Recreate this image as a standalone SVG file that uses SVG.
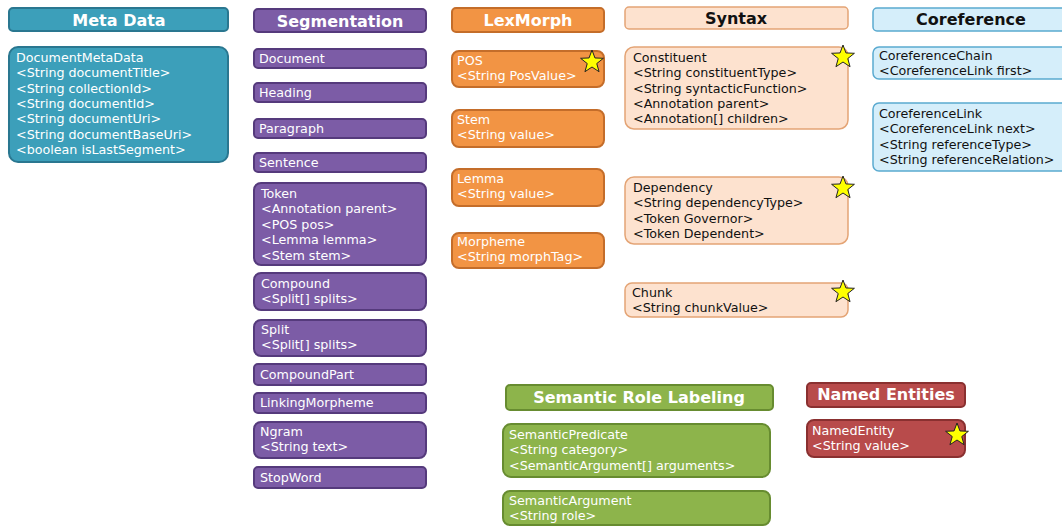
<svg xmlns="http://www.w3.org/2000/svg" width="1062" height="526" viewBox="0 0 1062 526">
<style>
text{font-family:"DejaVu Sans","Noto Sans",sans-serif;}
.h{font-size:16px;font-weight:bold;text-anchor:middle;}
.b{font-size:12.7px;}
.w{fill:#ffffff;}
.k{fill:#111111;}
.meta{fill:#3c9fba;stroke:#2a7790;stroke-width:2;}
.seg{fill:#7c5ca6;stroke:#553a7c;stroke-width:2;}
.lex{fill:#f29444;stroke:#c46d2a;stroke-width:2;}
.syn{fill:#fde2cf;stroke:#e4a475;stroke-width:1.5;}
.cor{fill:#d5eefa;stroke:#5aaad0;stroke-width:1.5;}
.srl{fill:#8db44b;stroke:#678c30;stroke-width:2;}
.ne{fill:#b84b4b;stroke:#8a3030;stroke-width:2;}
.star{fill:#ffff00;stroke:#222;stroke-width:1;}
</style>
<defs>
<path id="star" class="star" d="M0,-12 L2.94,-4.05 L11.41,-3.71 L4.76,1.55 L7.05,9.71 L0,5 L-7.05,9.71 L-4.76,1.55 L-11.41,-3.71 L-2.94,-4.05 Z"/>
</defs>
<rect width="1062" height="526" fill="#ffffff"/>
<g id="connectors"></g>

<!-- Meta Data -->
<g id="meta-header"><rect class="meta" x="9" y="8" width="219" height="23" rx="4"/><text class="h w" x="119" y="25.5">Meta Data</text></g>
<g id="DocumentMetaData"><rect class="meta" x="9" y="47" width="219" height="115" rx="9"/>
<text class="b w" x="16"><tspan x="16" y="62">DocumentMetaData</tspan><tspan x="16" y="77.3">&lt;String documentTitle&gt;</tspan><tspan x="16" y="92.6">&lt;String collectionId&gt;</tspan><tspan x="16" y="107.9">&lt;String documentId&gt;</tspan><tspan x="16" y="123.2">&lt;String documentUri&gt;</tspan><tspan x="16" y="138.5">&lt;String documentBaseUri&gt;</tspan><tspan x="16" y="153.8">&lt;boolean isLastSegment&gt;</tspan></text></g>

<!-- Segmentation -->
<g id="seg-header"><rect class="seg" x="254" y="9" width="172" height="23" rx="4"/><text class="h w" x="340" y="26.5">Segmentation</text></g>
<g id="Document"><rect class="seg" x="254" y="49" width="172" height="19" rx="4"/><text class="b w" x="259" y="63">Document</text></g>
<g id="Heading"><rect class="seg" x="254" y="83" width="172" height="19" rx="4"/><text class="b w" x="259" y="97">Heading</text></g>
<g id="Paragraph"><rect class="seg" x="254" y="119" width="172" height="19" rx="4"/><text class="b w" x="259" y="133">Paragraph</text></g>
<g id="Sentence"><rect class="seg" x="254" y="153" width="172" height="19" rx="4"/><text class="b w" x="259" y="167">Sentence</text></g>
<g id="Token"><rect class="seg" x="254" y="183" width="172" height="82" rx="7"/>
<text class="b w"><tspan x="261" y="197.5">Token</tspan><tspan x="261" y="213">&lt;Annotation parent&gt;</tspan><tspan x="261" y="228.5">&lt;POS pos&gt;</tspan><tspan x="261" y="244">&lt;Lemma lemma&gt;</tspan><tspan x="261" y="259.5">&lt;Stem stem&gt;</tspan></text></g>
<g id="Compound"><rect class="seg" x="254" y="273" width="172" height="37" rx="7"/>
<text class="b w"><tspan x="261" y="287.5">Compound</tspan><tspan x="261" y="302.5">&lt;Split[] splits&gt;</tspan></text></g>
<g id="Split"><rect class="seg" x="254" y="320" width="172" height="36" rx="7"/>
<text class="b w"><tspan x="261" y="334">Split</tspan><tspan x="261" y="349">&lt;Split[] splits&gt;</tspan></text></g>
<g id="CompoundPart"><rect class="seg" x="254" y="364" width="172" height="21" rx="4"/><text class="b w" x="260" y="378.5">CompoundPart</text></g>
<g id="LinkingMorpheme"><rect class="seg" x="254" y="393" width="172" height="20" rx="4"/><text class="b w" x="260" y="407">LinkingMorpheme</text></g>
<g id="Ngram"><rect class="seg" x="254" y="422" width="172" height="36" rx="7"/>
<text class="b w"><tspan x="260" y="436">Ngram</tspan><tspan x="260" y="451">&lt;String text&gt;</tspan></text></g>
<g id="StopWord"><rect class="seg" x="254" y="467" width="172" height="21" rx="4"/><text class="b w" x="260" y="481.5">StopWord</text></g>

<!-- LexMorph -->
<g id="lex-header"><rect class="lex" x="452" y="8" width="152" height="24" rx="4"/><text class="h w" x="528" y="25.5">LexMorph</text></g>
<g id="POS"><rect class="lex" x="452" y="51" width="152" height="36" rx="7"/>
<text class="b w"><tspan x="457" y="65">POS</tspan><tspan x="457" y="80">&lt;String PosValue&gt;</tspan></text>
<use href="#star" x="592" y="62"/></g>
<g id="Stem"><rect class="lex" x="452" y="110" width="152" height="37" rx="7"/>
<text class="b w"><tspan x="457" y="124">Stem</tspan><tspan x="457" y="139">&lt;String value&gt;</tspan></text></g>
<g id="Lemma"><rect class="lex" x="452" y="169" width="152" height="37" rx="7"/>
<text class="b w"><tspan x="457" y="183">Lemma</tspan><tspan x="457" y="198">&lt;String value&gt;</tspan></text></g>
<g id="Morpheme"><rect class="lex" x="452" y="233" width="152" height="35" rx="7"/>
<text class="b w"><tspan x="457" y="246">Morpheme</tspan><tspan x="457" y="261">&lt;String morphTag&gt;</tspan></text></g>

<!-- Syntax -->
<g id="syn-header"><rect class="syn" x="625" y="7" width="223" height="22" rx="4"/><text class="h k" x="736" y="24">Syntax</text></g>
<g id="Constituent"><rect class="syn" x="625" y="47" width="223" height="82" rx="9"/>
<text class="b k"><tspan x="633" y="62">Constituent</tspan><tspan x="633" y="77.3">&lt;String constituentType&gt;</tspan><tspan x="633" y="92.6">&lt;String syntacticFunction&gt;</tspan><tspan x="633" y="107.9">&lt;Annotation parent&gt;</tspan><tspan x="633" y="123.2">&lt;Annotation[] children&gt;</tspan></text>
<use href="#star" x="843" y="57"/></g>
<g id="Dependency"><rect class="syn" x="625" y="177" width="223" height="67" rx="9"/>
<text class="b k"><tspan x="633" y="192">Dependency</tspan><tspan x="633" y="207.3">&lt;String dependencyType&gt;</tspan><tspan x="633" y="222.6">&lt;Token Governor&gt;</tspan><tspan x="633" y="237.9">&lt;Token Dependent&gt;</tspan></text>
<use href="#star" x="843" y="188"/></g>
<g id="Chunk"><rect class="syn" x="625" y="283" width="223" height="34" rx="7"/>
<text class="b k"><tspan x="632" y="297">Chunk</tspan><tspan x="632" y="312">&lt;String chunkValue&gt;</tspan></text>
<use href="#star" x="843" y="292"/></g>

<!-- Coreference -->
<g id="cor-header"><rect class="cor" x="873" y="8" width="200" height="23" rx="4"/><text class="h k" x="971" y="24.5">Coreference</text></g>
<g id="CoreferenceChain"><rect class="cor" x="873" y="47" width="200" height="32" rx="6"/>
<text class="b k"><tspan x="879" y="60">CoreferenceChain</tspan><tspan x="879" y="75">&lt;CoreferenceLink first&gt;</tspan></text></g>
<g id="CoreferenceLink"><rect class="cor" x="873" y="103" width="200" height="68" rx="6"/>
<text class="b k"><tspan x="879" y="118">CoreferenceLink</tspan><tspan x="879" y="133.3">&lt;CoreferenceLink next&gt;</tspan><tspan x="879" y="148.6">&lt;String referenceType&gt;</tspan><tspan x="879" y="163.9">&lt;String referenceRelation&gt;</tspan></text></g>

<!-- Semantic Role Labeling -->
<g id="srl-header"><rect class="srl" x="506" y="385" width="267" height="25" rx="4"/><text class="h w" x="639" y="403">Semantic Role Labeling</text></g>
<g id="SemanticPredicate"><rect class="srl" x="503" y="424" width="267" height="53" rx="8"/>
<text class="b w"><tspan x="509" y="438.5">SemanticPredicate</tspan><tspan x="509" y="454">&lt;String category&gt;</tspan><tspan x="509" y="469.5">&lt;SemanticArgument[] arguments&gt;</tspan></text></g>
<g id="SemanticArgument"><rect class="srl" x="503" y="491" width="267" height="34" rx="7"/>
<text class="b w"><tspan x="509" y="505">SemanticArgument</tspan><tspan x="509" y="520">&lt;String role&gt;</tspan></text></g>

<!-- Named Entities -->
<g id="ne-header"><rect class="ne" x="807" y="383" width="158" height="24" rx="4"/><text class="h w" x="886" y="400">Named Entities</text></g>
<g id="NamedEntity"><rect class="ne" x="807" y="420" width="158" height="37" rx="7"/>
<text class="b w"><tspan x="812" y="435">NamedEntity</tspan><tspan x="812" y="450">&lt;String value&gt;</tspan></text>
<use href="#star" x="957" y="435"/></g>
</svg>
